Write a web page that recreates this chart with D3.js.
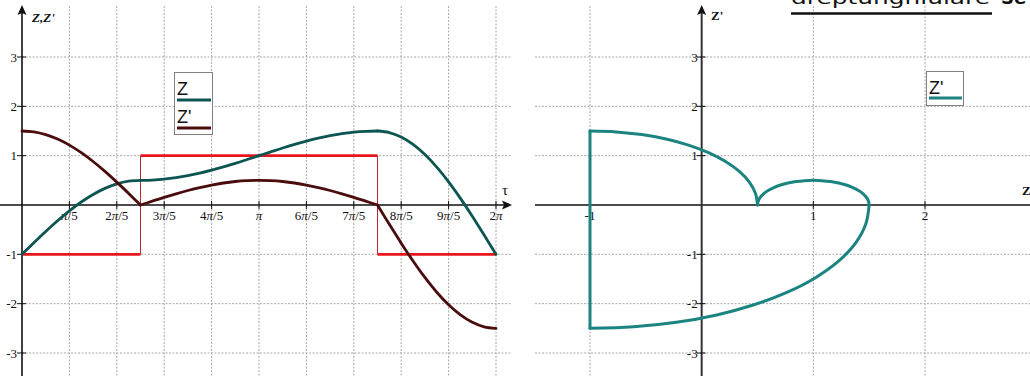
<!DOCTYPE html>
<html><head><meta charset="utf-8">
<script src="https://cdn.jsdelivr.net/npm/d3@7"></script>
<style>body{margin:0;background:#fff}svg{display:block}</style>
</head><body>
<svg id="chart" width="1030" height="376"></svg>
<script>
// τ sample positions, in units of π
const tau = [0,0.05,0.1,0.15,0.2,0.25,0.3,0.35,0.4,0.45,0.5,0.55,0.6,0.65,0.7,0.75,0.8,0.85,0.9,0.95,
  1,1.05,1.1,1.15,1.2,1.25,1.3,1.35,1.4,1.45,1.5,1.55,1.6,1.65,1.7,1.75,1.8,1.85,1.9,1.95,2];
// displacement Z(τ)
const zValues = [-1,-0.765,-0.536,-0.319,-0.118,0.061,0.214,0.337,0.427,0.482,0.5,
  0.506,0.524,0.554,0.595,0.646,0.706,0.773,0.845,0.922,1,1.078,1.155,1.227,1.294,1.354,1.405,1.446,1.476,1.494,1.5,
  1.469,1.378,1.228,1.023,0.768,0.469,0.135,-0.227,-0.609,-1];
// velocity Z'(τ)
const zPrimeValues = [1.5,1.482,1.427,1.337,1.214,1.061,0.882,0.681,0.464,0.235,0,
  0.078,0.155,0.227,0.294,0.354,0.405,0.446,0.476,0.494,0.5,0.494,0.476,0.446,0.405,0.354,0.294,0.227,0.155,0.078,0,
  -0.391,-0.773,-1.135,-1.469,-1.768,-2.023,-2.228,-2.378,-2.469,-2.5];
// rectangular forcing: one level per interval between breaks (units of π)
const forceBreaks = [0, 0.5, 1.5, 2];
const forceLevels = [-1, 1, -1];
// axis ticks
const tauTickValues = [0.2,0.4,0.6,0.8,1,1.2,1.4,1.6,1.8,2];
const tauTickLabels = [["","π","/5"],["2","π","/5"],["3","π","/5"],["4","π","/5"],["","π",""],
  ["6","π","/5"],["7","π","/5"],["8","π","/5"],["9","π","/5"],["2","π",""]];
const yTicks = [-3,-2,-1,1,2,3];
const phaseXTicks = [-1,1,2];

const svg = d3.select("#chart");
const serif = "'Liberation Serif','Times New Roman',serif";
const sans = "'Liberation Sans',Arial,sans-serif";
const cZ = "#0d5550", cZp = "#4a0d0d", cRed = "#e8161c", cPhase = "#1b8480";
const gridColor = "#a8a8a8";

const pts = tau.map((t, i) => ({t, z: zValues[i], zp: zPrimeValues[i]}));
// split samples at forcing switches so the kinks stay sharp
const segments = forceLevels.map((lv, i) =>
  pts.filter(p => p.t >= forceBreaks[i] - 1e-9 && p.t <= forceBreaks[i + 1] + 1e-9));

// ---------- left panel: Z and Z' against τ ----------
const x = d3.scaleLinear().domain([0, 2]).range([22, 496]);
const y = d3.scaleLinear().domain([-3, 3]).range([353, 57]);
const L = svg.append("g");

// grid
L.selectAll(".vg").data(tauTickValues).join("line")
  .attr("x1", d => x(d)).attr("x2", d => x(d)).attr("y1", 6).attr("y2", 376)
  .attr("stroke", gridColor).attr("stroke-dasharray", "2,1.5");
L.selectAll(".hg").data(yTicks).join("line")
  .attr("x1", 22).attr("x2", 511).attr("y1", d => y(d)).attr("y2", d => y(d))
  .attr("stroke", gridColor).attr("stroke-dasharray", "2,1.5");

// axes
L.append("line").attr("x1", 0).attr("x2", 506).attr("y1", y(0)).attr("y2", y(0)).attr("stroke", "#111").attr("stroke-width", 1.6);
L.append("path").attr("d", `M512,${y(0)}L502,${y(0)-4.5}L504,${y(0)}L502,${y(0)+4.5}Z`).attr("fill", "#111");
L.append("line").attr("x1", x(0)).attr("x2", x(0)).attr("y1", 12).attr("y2", 376).attr("stroke", "#111").attr("stroke-width", 1.6);
L.append("path").attr("d", `M${x(0)},5L${x(0)-4.5},15L${x(0)},13L${x(0)+4.5},15Z`).attr("fill", "#111");

L.selectAll(".yt").data(yTicks).join("line")
  .attr("x1", x(0) - 5).attr("x2", x(0) + 4).attr("y1", d => y(d)).attr("y2", d => y(d)).attr("stroke", "#111");
L.selectAll(".ytl").data(yTicks).join("text")
  .attr("x", 17).attr("y", d => y(d) + 4.5).attr("text-anchor", "end")
  .attr("font-family", serif).attr("font-size", 13).attr("fill", "#111").text(d => d);
L.selectAll(".xt").data(tauTickValues).join("line")
  .attr("x1", d => x(d)).attr("x2", d => x(d)).attr("y1", y(0) - 4).attr("y2", y(0) + 4).attr("stroke", "#111");
const xl = L.selectAll(".xtl").data(tauTickValues).join("text")
  .attr("x", d => x(d)).attr("y", 220).attr("text-anchor", "middle")
  .attr("font-family", serif).attr("font-size", 13).attr("fill", "#111");
xl.each(function(d, i) {
  const parts = tauTickLabels[i];
  const t = d3.select(this);
  t.append("tspan").text(parts[0]);
  t.append("tspan").attr("font-style", "italic").text(parts[1]);
  t.append("tspan").text(parts[2]);
});
L.append("text").attr("x", 32).attr("y", 22).attr("font-family", serif).attr("font-size", 13)
  .attr("font-weight", "bold").attr("font-style", "italic").attr("fill", "#111").text("Z,Z'");
L.append("text").attr("x", 502).attr("y", 195).attr("font-family", serif).attr("font-size", 15)
  .attr("fill", "#111").text("τ");

// rectangular forcing
forceLevels.forEach((lv, i) => {
  L.append("line").attr("x1", x(forceBreaks[i])).attr("x2", x(forceBreaks[i + 1]))
    .attr("y1", y(lv)).attr("y2", y(lv)).attr("stroke", cRed).attr("stroke-width", 2.6);
  if (i > 0) {
    L.append("line").attr("x1", x(forceBreaks[i])).attr("x2", x(forceBreaks[i]))
      .attr("y1", y(forceLevels[i - 1])).attr("y2", y(lv)).attr("stroke", "#b8282c").attr("stroke-width", 1);
  }
});

// curves
const lineZ = d3.line().x(p => x(p.t)).y(p => y(p.z)).curve(d3.curveCatmullRom.alpha(0.5));
const lineZp = d3.line().x(p => x(p.t)).y(p => y(p.zp)).curve(d3.curveCatmullRom.alpha(0.5));
segments.forEach(s => L.append("path").attr("d", lineZ(s)).attr("fill", "none")
  .attr("stroke", cZ).attr("stroke-width", 2.8).attr("stroke-linecap", "round"));
segments.forEach(s => L.append("path").attr("d", lineZp(s)).attr("fill", "none")
  .attr("stroke", cZp).attr("stroke-width", 2.8).attr("stroke-linecap", "round"));

// legend
const lg = L.append("g");
lg.append("rect").attr("x", 174.5).attr("y", 72.5).attr("width", 38).attr("height", 62)
  .attr("fill", "#fff").attr("stroke", "#808080");
lg.append("text").attr("x", 177).attr("y", 95).attr("font-family", sans).attr("font-size", 18).attr("fill", "#111").text("Z");
lg.append("line").attr("x1", 177).attr("x2", 211).attr("y1", 100).attr("y2", 100).attr("stroke", cZ).attr("stroke-width", 3);
lg.append("text").attr("x", 177).attr("y", 123).attr("font-family", sans).attr("font-size", 18).attr("fill", "#111").text("Z'");
lg.append("line").attr("x1", 177).attr("x2", 211).attr("y1", 128).attr("y2", 128).attr("stroke", cZp).attr("stroke-width", 3);

// ---------- right panel: phase plane Z' against Z ----------
const xr = d3.scaleLinear().domain([-1, 2]).range([590, 925]);
const R = svg.append("g");
R.selectAll(".vg").data(phaseXTicks).join("line")
  .attr("x1", d => xr(d)).attr("x2", d => xr(d)).attr("y1", 6).attr("y2", 376)
  .attr("stroke", gridColor).attr("stroke-dasharray", "2,1.5");
R.selectAll(".hg").data(yTicks).join("line")
  .attr("x1", 535).attr("x2", 1030).attr("y1", d => y(d)).attr("y2", d => y(d))
  .attr("stroke", gridColor).attr("stroke-dasharray", "2,1.5");

R.append("line").attr("x1", 535).attr("x2", 1030).attr("y1", y(0)).attr("y2", y(0)).attr("stroke", "#111").attr("stroke-width", 1.6);
R.append("line").attr("x1", xr(0)).attr("x2", xr(0)).attr("y1", 12).attr("y2", 376).attr("stroke", "#333").attr("stroke-width", 2);
R.append("path").attr("d", `M${xr(0)},5L${xr(0)-4.5},15L${xr(0)},13L${xr(0)+4.5},15Z`).attr("fill", "#111");

R.selectAll(".yt").data(yTicks).join("line")
  .attr("x1", xr(0) - 5).attr("x2", xr(0) + 4).attr("y1", d => y(d)).attr("y2", d => y(d)).attr("stroke", "#111");
R.selectAll(".ytl").data(yTicks).join("text")
  .attr("x", xr(0) - 4).attr("y", d => y(d) + 4.5).attr("text-anchor", "end")
  .attr("font-family", serif).attr("font-size", 13).attr("fill", "#111").text(d => d);
R.selectAll(".xt").data(phaseXTicks).join("line")
  .attr("x1", d => xr(d)).attr("x2", d => xr(d)).attr("y1", y(0) - 4).attr("y2", y(0) + 4).attr("stroke", "#111");
R.selectAll(".xtl").data(phaseXTicks).join("text")
  .attr("x", d => xr(d)).attr("y", 220).attr("text-anchor", "middle")
  .attr("font-family", serif).attr("font-size", 13).attr("fill", "#111").text(d => d);
R.append("text").attr("x", 711).attr("y", 20).attr("font-family", serif).attr("font-size", 13)
  .attr("font-weight", "bold").attr("fill", "#111").text("Z'");
R.append("text").attr("x", 1022).attr("y", 195).attr("font-family", serif).attr("font-size", 13)
  .attr("font-weight", "bold").attr("fill", "#111").text("Z");

// trajectory, with the jump in Z' closing the cycle
const linePhase = d3.line().x(p => xr(p.z)).y(p => y(p.zp)).curve(d3.curveCatmullRom.alpha(0.5));
segments.forEach(s => R.append("path").attr("d", linePhase(s)).attr("fill", "none")
  .attr("stroke", cPhase).attr("stroke-width", 3).attr("stroke-linecap", "round"));
const first = pts[0], last = pts[pts.length - 1];
R.append("line").attr("x1", xr(last.z)).attr("x2", xr(first.z)).attr("y1", y(last.zp)).attr("y2", y(first.zp))
  .attr("stroke", cPhase).attr("stroke-width", 3).attr("stroke-linecap", "round");

const rg = R.append("g");
rg.append("rect").attr("x", 926.5).attr("y", 71.5).attr("width", 37).attr("height", 34)
  .attr("fill", "#fff").attr("stroke", "#808080");
rg.append("text").attr("x", 929).attr("y", 94).attr("font-family", sans).attr("font-size", 18).attr("fill", "#111").text("Z'");
rg.append("line").attr("x1", 929).attr("x2", 962).attr("y1", 98).attr("y2", 98).attr("stroke", cPhase).attr("stroke-width", 3);

// heading text running off the top edge
svg.append("text").attr("x", 791).attr("y", 3.5).attr("font-family", "'DejaVu Sans',Verdana,sans-serif")
  .attr("font-size", 18).attr("textLength", 199).attr("lengthAdjust", "spacingAndGlyphs").attr("fill", "#111").text("dreptunghiulare");
svg.append("line").attr("x1", 791).attr("x2", 992).attr("y1", 13.5).attr("y2", 13.5).attr("stroke", "#111").attr("stroke-width", 2.5);
svg.append("text").attr("x", 1001).attr("y", 3.5).attr("font-family", "'DejaVu Sans',Verdana,sans-serif")
  .attr("font-size", 18).attr("font-weight", "bold").attr("fill", "#111").text("Se");
</script>
</body></html>
